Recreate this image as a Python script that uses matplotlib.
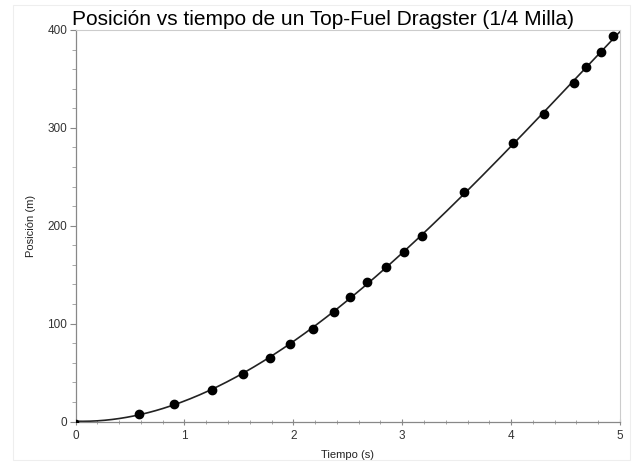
import numpy as np
import matplotlib
matplotlib.use("Agg")
import matplotlib.pyplot as plt
from matplotlib.ticker import MultipleLocator
from matplotlib.patches import Rectangle

plt.rcParams['font.family'] = ['Liberation Sans', 'DejaVu Sans']

tiempo = [0.0, 0.58, 0.90, 1.25, 1.54, 1.79, 1.97, 2.18, 2.37, 2.52, 2.68, 2.85,
          3.02, 3.18, 3.57, 4.02, 4.30, 4.58, 4.69, 4.83, 4.94]
posicion = [0.0, 7.2, 17.9, 32.5, 48.8, 65.2, 79.2, 94.5, 112.2, 127.2, 142.5, 158.1,
            172.8, 189.8, 234.7, 284.8, 314.4, 345.8, 362.1, 377.4, 394.1]

title = "Posición vs tiempo de un Top-Fuel Dragster (1/4 Milla)"
xlabel = "Tiempo (s)"
ylabel = "Posición (m)"

fig = plt.figure(figsize=(6.36, 4.63), dpi=100)
ax = fig.add_axes([75.5/636, 1 - 421.5/463, (620 - 75.5)/636, (421.5 - 30)/463])

# fit curve from the data
coef = np.polyfit(tiempo, posicion, 3)
tt = np.linspace(0, 5, 300)
ax.plot(tt, np.polyval(coef, tt), color='#222222', lw=1.2, zorder=2)
ax.plot(tiempo[1:], posicion[1:], 'o', color='black', ms=6, zorder=3)
ax.plot(tiempo[:1], posicion[:1], 'o', color='black', ms=3, zorder=3)

ax.set_xlim(0, 5)
ax.set_ylim(0, 400)
ax.xaxis.set_major_locator(MultipleLocator(1))
ax.xaxis.set_minor_locator(MultipleLocator(0.2))
ax.yaxis.set_major_locator(MultipleLocator(100))
ax.yaxis.set_minor_locator(MultipleLocator(20))

for s in ['top', 'right']:
    ax.spines[s].set_color('#cccccc')
    ax.spines[s].set_linewidth(0.8)
for s in ['left', 'bottom']:
    ax.spines[s].set_color('#888888')
    ax.spines[s].set_linewidth(0.9)

ax.tick_params(axis='both', which='major', labelsize=8.5, colors='#888888',
               labelcolor='#333333', length=4, width=0.8)
ax.tick_params(axis='both', which='minor', colors='#999999', length=3, width=0.6)
ax.tick_params(axis='x', which='both', direction='inout', pad=4)
ax.tick_params(axis='y', which='both', direction='out', pad=2)

ax.set_xlabel(xlabel, fontsize=8, color='#222222', labelpad=6)
ax.set_ylabel(ylabel, fontsize=8, color='#222222', labelpad=8)
fig.text(0.508, 0.957, title, ha='center', va='center', fontsize=15, color='black')

fig.patches.append(Rectangle((13/636, 3/463), 617/636, 455/463, transform=fig.transFigure,
                             fill=False, edgecolor='#eeeeee', lw=0.8))

fig.savefig('out.png', dpi=100)
